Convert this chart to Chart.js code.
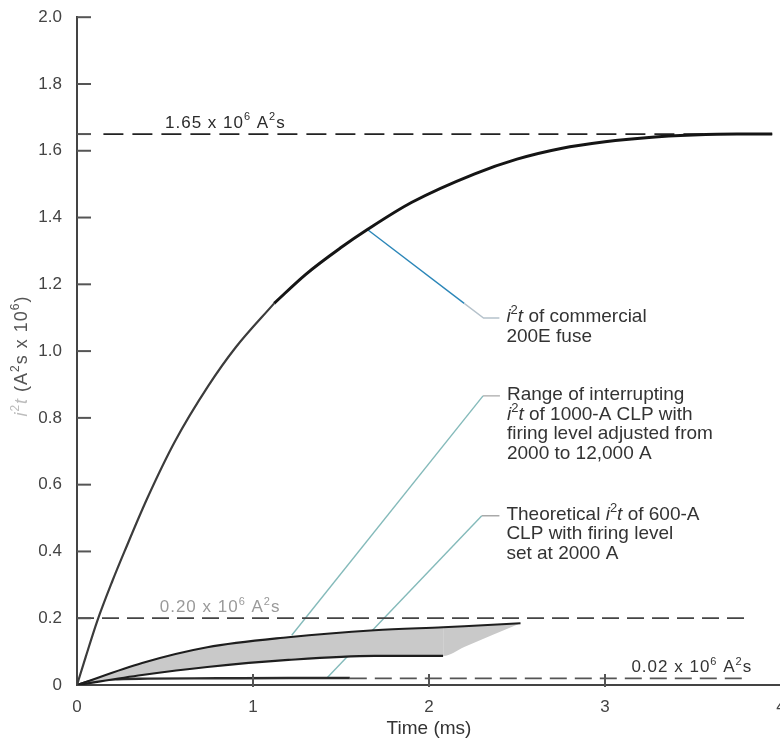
<!DOCTYPE html>
<html><head><meta charset="utf-8">
<script src="https://cdn.jsdelivr.net/npm/chart.js@4"></script>
<style>html,body{margin:0;padding:0;background:#fff;overflow:hidden}#wrap{width:800px;height:743px}</style>
</head><body><div id="wrap"><canvas id="c" width="800" height="743"></canvas></div>
<script>
// ---- data (time in ms, i2t in 10^6 A^2 s) ----
const timeTicks = [0, 1, 2, 3, 4];
const valueTicks = [0, 0.2, 0.4, 0.6, 0.8, 1.0, 1.2, 1.4, 1.6, 1.8, 2.0];

const fuseTime = [0, 0.05, 0.114, 0.2, 0.27, 0.4, 0.557, 0.745, 0.9, 1.12, 1.3, 1.5, 1.65, 1.9, 2.26, 2.5, 2.75, 3.0, 3.25, 3.5, 3.75, 3.95];
const fuseI2t  = [0, 0.085, 0.19, 0.31, 0.40, 0.56, 0.73, 0.895, 1.01, 1.143, 1.23, 1.31, 1.364, 1.445, 1.531, 1.575, 1.607, 1.627, 1.64, 1.647, 1.65, 1.65];
const fuseBoldFrom = 9;

const clpTime = [0, 0.37, 0.74, 1.2, 1.69, 2.08, 2.2, 2.52];
const clpHigh = [0, 0.066, 0.113, 0.143, 0.164, 0.173, 0.176, 0.185];
const clpLow  = [0, 0.030, 0.054, 0.075, 0.087, 0.087, 0.114, 0.185];
const clpLowStrokeTo = 5;

const clp600Time = [0, 0.08, 0.2, 0.4, 0.8, 1.2, 1.55];
const clp600I2t  = [0, 0.012, 0.017, 0.019, 0.020, 0.021, 0.021];

const refLevels  = [1.65, 0.20, 0.02];
const refFrom    = [0.15, 0, 1.55];
const refTo      = [3.95, 3.82, 3.82];
const refLabelAt = [0.5, 0.47, 3.15];
const refLabels  = [
  [['1.65 x 10'], ['6', 's'], [' A'], ['2', 's'], ['s']],
  [['0.20 x 10'], ['6', 's'], [' A'], ['2', 's'], ['s']],
  [['0.02 x 10'], ['6', 's'], [' A'], ['2', 's'], ['s']]
];

const fuseLeaderTime = [1.65, 2.2, 2.31, 2.40];
const fuseLeaderI2t  = [1.364, 1.143, 1.099, 1.099];
const rangeLeaderTime = [1.22, 2.307, 2.403];
const rangeLeaderI2t  = [0.149, 0.866, 0.866];
const theoryLeaderTime = [1.42, 2.30, 2.40];
const theoryLeaderI2t  = [0.021, 0.507, 0.507];

const fuseNote = [
  [['i', 'i'], ['2', 's'], ['t', 'i'], [' of commercial']],
  [['200E fuse']]
];
const rangeNote = [
  [['Range of interrupting']],
  [['i', 'i'], ['2', 's'], ['t', 'i'], [' of 1000-A CLP with']],
  [['firing level adjusted from']],
  [['2000 to 12,000 A']]
];
const theoryNote = [
  [['Theoretical '], ['i', 'i'], ['2', 's'], ['t', 'i'], [' of 600-A']],
  [['CLP with firing level']],
  [['set at 2000 A']]
];
const yTitle = [['i', 'i', '#bdbdbd'], ['2', 's', '#bdbdbd'], ['t', 'i', '#bdbdbd'], [' (A'], ['2', 's'], ['s x 10'], ['6', 's'], [')']];
const xTitle = 'Time (ms)';

// ---- helpers ----
const FONT = '"Liberation Sans", Arial, sans-serif';
const pts = (xs, ys) => xs.map((x, i) => ({x: x, y: ys[i]}));

function setFont(ctx, st, size) {
  const fs = st === 's' ? Math.round(size * 0.66) : size;
  ctx.font = (st === 'i' ? 'italic ' : '') + fs + 'px ' + FONT;
}
function runsWidth(ctx, runs, size) {
  let w = 0;
  for (const r of runs) { setFont(ctx, r[1], size); w += ctx.measureText(r[0]).width; }
  return w;
}
function drawRuns(ctx, runs, x, y, size, color) {
  let cx = x;
  ctx.textBaseline = 'middle';
  ctx.textAlign = 'left';
  for (const r of runs) {
    const txt = r[0], st = r[1], col = r[2];
    setFont(ctx, st, size);
    const dy = st === 's' ? -size * 0.33 : 0;
    ctx.fillStyle = col || color;
    ctx.fillText(txt, cx, y + dy);
    cx += ctx.measureText(txt).width;
  }
}

const decorPlugin = {
  id: 'decor',
  afterDraw(chart) {
    const ctx = chart.ctx, xs = chart.scales.x, ys = chart.scales.y;
    const a = chart.chartArea;
    ctx.save();
    // inward tick marks
    ctx.strokeStyle = '#555';
    ctx.lineWidth = 2;
    valueTicks.concat([refLevels[0]]).forEach(v => {
      if (v === 0) return;
      const py = ys.getPixelForValue(v);
      ctx.beginPath(); ctx.moveTo(a.left, py); ctx.lineTo(a.left + 14, py); ctx.stroke();
    });
    timeTicks.forEach(t => {
      if (t === 0) return;
      const px = xs.getPixelForValue(t);
      ctx.beginPath(); ctx.moveTo(px, a.bottom - 11); ctx.lineTo(px, a.bottom + 2); ctx.stroke();
    });
    // reference labels
    const refColors = ['#2a2a2a', '#9a9a9a', '#333'];
    ctx.letterSpacing = '1px';
    refLabels.forEach((runs, i) => {
      drawRuns(ctx, runs, xs.getPixelForValue(refLabelAt[i]), ys.getPixelForValue(refLevels[i]) - 11, 17, refColors[i]);
    });
    ctx.letterSpacing = '0px';
    // notes
    const notes = [[fuseNote, fuseLeaderTime, fuseLeaderI2t], [rangeNote, rangeLeaderTime, rangeLeaderI2t], [theoryNote, theoryLeaderTime, theoryLeaderI2t]];
    notes.forEach(([lines, lt, lv]) => {
      const x0 = xs.getPixelForValue(lt[lt.length - 1]) + 7;
      const y0 = ys.getPixelForValue(lv[lv.length - 1]) - 1;
      lines.forEach((runs, k) => drawRuns(ctx, runs, x0, y0 + k * 19.5, 19, '#333'));
    });
    // rotated y title
    ctx.letterSpacing = '1px';
    ctx.translate(22, (a.top + a.bottom) / 2 + 5);
    ctx.rotate(-Math.PI / 2);
    const w = runsWidth(ctx, yTitle, 18);
    drawRuns(ctx, yTitle, -w / 2, 0, 18, '#555');
    ctx.restore();
  }
};

const dashed = (lvl, i, dash, col) => ({
  data: pts([refFrom[i], refTo[i]], [lvl, lvl]),
  borderColor: col, borderWidth: 1.8, borderDash: dash, fill: false
});

new Chart(document.getElementById('c'), {
  type: 'scatter',
  plugins: [decorPlugin],
  data: {
    datasets: [
      { data: pts(fuseTime.slice(0, fuseBoldFrom + 1), fuseI2t.slice(0, fuseBoldFrom + 1)), borderColor: '#3c3c3c', borderWidth: 2.2, cubicInterpolationMode: 'monotone' },
      { data: pts(fuseTime.slice(fuseBoldFrom), fuseI2t.slice(fuseBoldFrom)), borderColor: '#151515', borderWidth: 3, cubicInterpolationMode: 'monotone' },
      { data: pts(clpTime, clpHigh), borderColor: '#1e1e1e', borderWidth: 2.2, cubicInterpolationMode: 'monotone' },
      { data: pts(clpTime, clpLow), borderColor: '#1e1e1e', borderWidth: 2.2, cubicInterpolationMode: 'monotone',
        fill: '-1', backgroundColor: '#c9c9c9',
        segment: { borderColor: c => c.p0DataIndex >= clpLowStrokeTo ? 'rgba(0,0,0,0)' : '#1e1e1e' } },
      { data: pts(clp600Time, clp600I2t), borderColor: '#2a2a2a', borderWidth: 2.4, cubicInterpolationMode: 'monotone' },
      dashed(refLevels[0], 0, [20, 9], '#222'),
      dashed(refLevels[1], 1, [17, 8], '#444'),
      dashed(refLevels[2], 2, [17, 8], '#555'),
      { data: pts(fuseLeaderTime, fuseLeaderI2t), borderColor: '#2b86b8', borderWidth: 1.4,
        segment: { borderColor: c => c.p0DataIndex === 0 ? '#2b86b8' : '#b5c2cb' } },
      { data: pts(rangeLeaderTime, rangeLeaderI2t), borderColor: '#84baba', borderWidth: 1.4,
        segment: { borderColor: c => c.p0DataIndex === 0 ? '#84baba' : '#a9a9a9' } },
      { data: pts(theoryLeaderTime, theoryLeaderI2t), borderColor: '#84baba', borderWidth: 1.4,
        segment: { borderColor: c => c.p0DataIndex === 0 ? '#84baba' : '#a9a9a9' } }
    ]
  },
  options: {
    responsive: false,
    animation: false,
    devicePixelRatio: 1,
    showLine: true,
    elements: { point: { radius: 0, hoverRadius: 0 }, line: { fill: false } },
    layout: { padding: { top: 15, right: 19, bottom: 0, left: 0 } },
    plugins: { legend: { display: false }, tooltip: { enabled: false } },
    scales: {
      x: {
        type: 'linear', min: 0, max: 4,
        afterBuildTicks: s => { s.ticks = timeTicks.map(v => ({value: v})); },
        afterFit: s => { s.height = 58; },
        grid: { display: false },
        border: { display: true, color: '#444', width: 2 },
        ticks: { padding: 4, color: '#444', font: { size: 17, family: FONT } },
        title: { display: true, text: xTitle, color: '#333', font: { size: 19, family: FONT }, padding: { top: 0, bottom: 3 } }
      },
      y: {
        type: 'linear', min: 0, max: 2,
        afterBuildTicks: s => { s.ticks = valueTicks.map(v => ({value: v})); },
        afterFit: s => { s.width = 77; },
        grid: { display: false },
        border: { display: true, color: '#444', width: 2 },
        ticks: { padding: 7, color: '#444', font: { size: 17, family: FONT },
          callback: v => v === 0 ? '0' : v.toFixed(1) }
      }
    }
  }
});
</script></body></html>
